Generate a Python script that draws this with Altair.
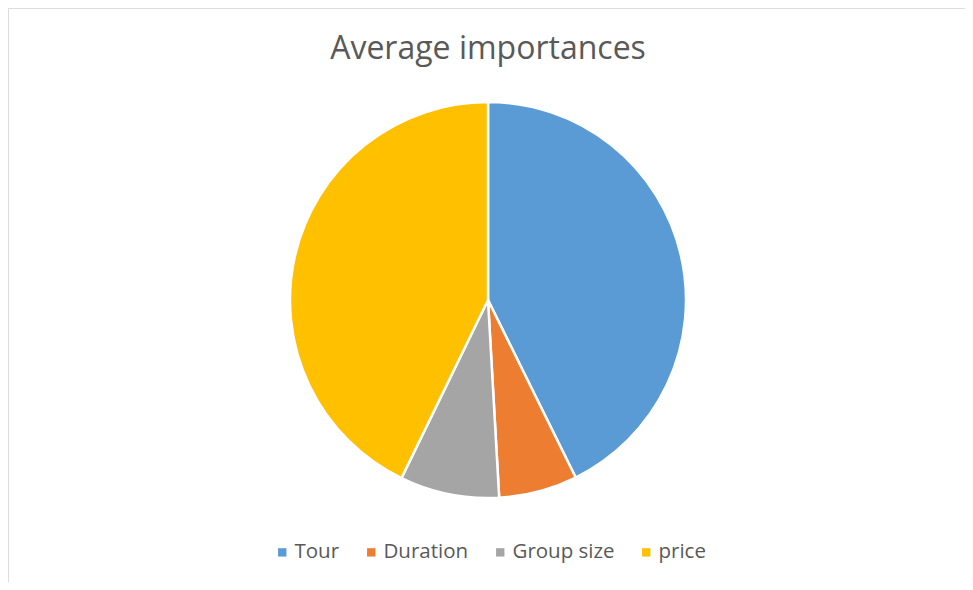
import altair as alt
import pandas as pd

categories = ["Tour", "Duration", "Group size", "price"]
values = [42.7, 6.4, 8.1, 42.8]
colors = ["#5B9BD5", "#ED7D31", "#A5A5A5", "#FFC000"]
title_text = "Average importances"

df = pd.DataFrame({"category": categories, "value": values, "order": list(range(len(categories)))})

pie = alt.Chart(df).mark_arc(radius=198, stroke="white", strokeWidth=2.5).encode(
    theta=alt.Theta("value:Q", stack=True),
    order=alt.Order("order:Q"),
    color=alt.Color(
        "category:N",
        sort=categories,
        scale=alt.Scale(domain=categories, range=colors),
        legend=alt.Legend(
            title=None,
            orient="none",
            direction="horizontal",
            legendX=264,
            legendY=534,
            symbolType="square",
            symbolSize=70,
            symbolStrokeWidth=0,
            labelFont="Open Sans",
            labelFontSize=20.5,
            labelColor="#595959",
            columnPadding=21,
            labelOffset=2,
        ),
    ),
    x=alt.value(480),
    y=alt.value(292),
)

title = alt.Chart(pd.DataFrame({"t": [title_text]})).mark_text(
    font="Open Sans", fontSize=32, color="#595959", baseline="alphabetic", align="center"
).encode(text="t:N", x=alt.value(480), y=alt.value(51))

chart = alt.layer(pie, title).properties(
    width=957, height=574, autosize=alt.AutoSizeParams(type="none"), padding=0
).configure_view(stroke="#D9D9D9", strokeWidth=1).configure(background="white")

chart.save("out.html", embed_options={"renderer": "svg", "actions": False})
